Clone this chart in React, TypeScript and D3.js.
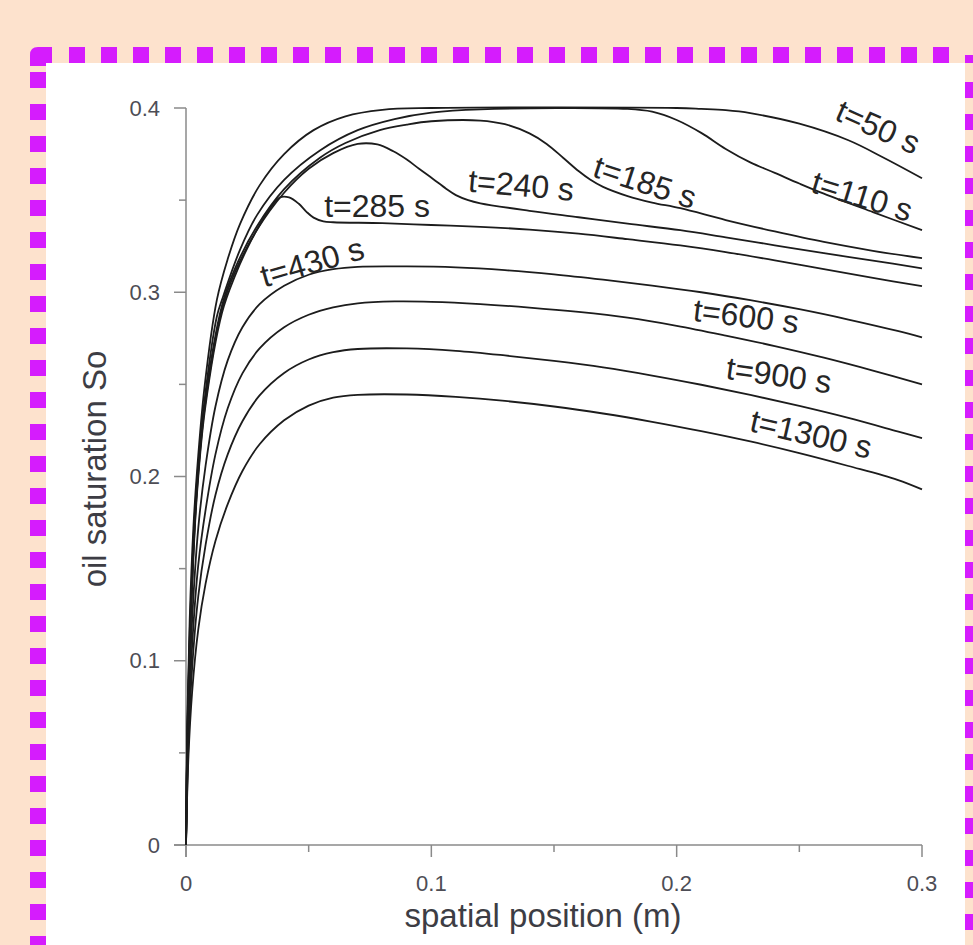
import React from "react";
import * as d3 from "d3";

// Oil saturation profiles So(x) at successive times (x in m)
const times = [50, 110, 185, 240, 285, 430, 600, 900, 1300];

const so50: [number, number][] = [
  [0, 0], [0.0005, 0.062], [0.0015, 0.122], [0.003, 0.172], [0.0045, 0.203], [0.0075, 0.248],
  [0.0126, 0.296], [0.017, 0.318], [0.022, 0.337], [0.03, 0.358], [0.04, 0.375], [0.052, 0.388],
  [0.065, 0.3955], [0.08, 0.399], [0.1, 0.4], [0.2, 0.4], [0.21, 0.3995], [0.22, 0.3988],
  [0.23, 0.3972], [0.25, 0.3915], [0.27, 0.3825], [0.284, 0.3733], [0.3, 0.3619],
];

const so110: [number, number][] = [
  [0, 0], [0.0005, 0.058], [0.0015, 0.115], [0.003, 0.165], [0.0045, 0.198], [0.0077, 0.243],
  [0.0126, 0.287], [0.0147, 0.296], [0.022, 0.323], [0.029, 0.342], [0.04, 0.361], [0.0546, 0.377],
  [0.07, 0.388], [0.085, 0.394], [0.1, 0.3975], [0.12, 0.3993], [0.18, 0.3995], [0.19, 0.398],
  [0.2, 0.3935], [0.21, 0.3865], [0.22, 0.3778], [0.23, 0.3705], [0.24, 0.3648], [0.25, 0.359],
  [0.26, 0.3535], [0.28, 0.3435], [0.3, 0.3337],
];

const so185: [number, number][] = [
  [0, 0], [0.0005, 0.055], [0.0015, 0.11], [0.003, 0.16], [0.0045, 0.195], [0.0077, 0.24],
  [0.0147, 0.293], [0.02, 0.313], [0.029, 0.336], [0.04, 0.356], [0.0546, 0.373], [0.065, 0.381],
  [0.079, 0.388], [0.09, 0.391], [0.1, 0.3928], [0.12, 0.3932], [0.13, 0.3912], [0.14, 0.3862],
  [0.147, 0.3805], [0.1537, 0.373], [0.16, 0.3658], [0.1647, 0.3612], [0.17, 0.3572], [0.18, 0.3522],
  [0.19, 0.3487], [0.2015, 0.3456], [0.22, 0.3392], [0.24, 0.333], [0.26, 0.3273], [0.28, 0.3225],
  [0.3, 0.3185],
];

const so240: [number, number][] = [
  [0, 0], [0.0005, 0.054], [0.0015, 0.108], [0.003, 0.158], [0.0045, 0.193], [0.0077, 0.238],
  [0.0147, 0.291], [0.02, 0.311], [0.029, 0.334], [0.04, 0.354], [0.05, 0.367], [0.06, 0.3755],
  [0.07, 0.3805], [0.078, 0.3802], [0.0845, 0.3765], [0.09, 0.372], [0.095, 0.367], [0.1007, 0.3615],
  [0.106, 0.3562], [0.11, 0.3527], [0.115, 0.35], [0.12, 0.3483], [0.14, 0.3442], [0.16, 0.3407],
  [0.18, 0.3372], [0.2015, 0.3337], [0.22, 0.3298], [0.24, 0.3255], [0.26, 0.3212], [0.28, 0.3172],
  [0.3, 0.313],
];

const so285: [number, number][] = [
  [0, 0], [0.0005, 0.053], [0.0015, 0.106], [0.003, 0.156], [0.0045, 0.191], [0.0077, 0.236],
  [0.0147, 0.289], [0.02, 0.309], [0.025, 0.324], [0.03, 0.3365], [0.034, 0.345], [0.0383, 0.3515],
  [0.042, 0.3515], [0.046, 0.348], [0.049, 0.3438], [0.052, 0.3405], [0.056, 0.3385], [0.06, 0.338],
  [0.08, 0.3375], [0.1, 0.3365], [0.12, 0.3355], [0.14, 0.334], [0.16, 0.3318], [0.18, 0.3288],
  [0.2015, 0.3254], [0.22, 0.3218], [0.24, 0.3173], [0.26, 0.3125], [0.28, 0.3078], [0.3, 0.3033],
];

const so430: [number, number][] = [
  [0, 0], [0.001, 0.07], [0.0025, 0.122], [0.005, 0.172], [0.008, 0.206], [0.012, 0.238],
  [0.017, 0.263], [0.023, 0.281], [0.03, 0.2935], [0.04, 0.3035], [0.05, 0.3095], [0.06, 0.3125],
  [0.07, 0.3138], [0.09, 0.314], [0.11, 0.3135], [0.13, 0.312], [0.15, 0.3097], [0.17, 0.3068],
  [0.19, 0.3036], [0.21, 0.3], [0.23, 0.2957], [0.25, 0.2908], [0.27, 0.2852], [0.29, 0.279],
  [0.3, 0.2755],
];

const so600: [number, number][] = [
  [0, 0], [0.001, 0.062], [0.0025, 0.108], [0.005, 0.152], [0.008, 0.182], [0.012, 0.212],
  [0.017, 0.237], [0.023, 0.256], [0.03, 0.2695], [0.04, 0.281], [0.05, 0.2878], [0.06, 0.2918],
  [0.07, 0.294], [0.085, 0.295], [0.1, 0.2948], [0.12, 0.2936], [0.14, 0.2917], [0.16, 0.2893],
  [0.18, 0.2862], [0.2, 0.2818], [0.22, 0.2765], [0.24, 0.2708], [0.26, 0.2645], [0.28, 0.2575],
  [0.3, 0.25],
];

const so900: [number, number][] = [
  [0, 0], [0.001, 0.055], [0.0025, 0.096], [0.005, 0.135], [0.008, 0.163], [0.012, 0.19],
  [0.017, 0.212], [0.023, 0.23], [0.03, 0.244], [0.04, 0.2562], [0.05, 0.2635], [0.06, 0.2675],
  [0.07, 0.2692], [0.09, 0.2695], [0.11, 0.2682], [0.13, 0.2657], [0.15, 0.2627], [0.17, 0.2592],
  [0.19, 0.2548], [0.21, 0.2498], [0.23, 0.2443], [0.25, 0.2383], [0.27, 0.2318], [0.29, 0.2245],
  [0.3, 0.2208],
];

const so1300: [number, number][] = [
  [0, 0], [0.001, 0.048], [0.0025, 0.083], [0.005, 0.117], [0.008, 0.142], [0.012, 0.165],
  [0.017, 0.185], [0.023, 0.203], [0.03, 0.2175], [0.04, 0.2305], [0.05, 0.2385], [0.06, 0.2428],
  [0.07, 0.2443], [0.09, 0.2445], [0.11, 0.2432], [0.13, 0.241], [0.15, 0.238], [0.17, 0.2342],
  [0.19, 0.2297], [0.21, 0.2246], [0.23, 0.219], [0.25, 0.2127], [0.27, 0.2057], [0.29, 0.1982],
  [0.3, 0.193],
];

const profiles = [so50, so110, so185, so240, so285, so430, so600, so900, so1300];

// Axis ticks
const xTicks = [0, 0.1, 0.2, 0.3];
const xMinorTicks = [0.05, 0.15, 0.25];
const yTicks = [0, 0.1, 0.2, 0.3, 0.4];
const yMinorTicks = [0.05, 0.15, 0.25, 0.35];

// Where each time label sits (data units) and its rotation in degrees
const labelSpots = [
  { x: 0.2821, y: 0.3896, angle: 24 },
  { x: 0.2756, y: 0.3521, angle: 17 },
  { x: 0.1871, y: 0.3597, angle: 18 },
  { x: 0.1366, y: 0.3581, angle: 5 },
  { x: 0.0779, y: 0.3467, angle: 0 },
  { x: 0.0514, y: 0.3163, angle: -16 },
  { x: 0.2283, y: 0.287, angle: 7 },
  { x: 0.2417, y: 0.255, angle: 8 },
  { x: 0.2548, y: 0.223, angle: 13 },
];

const W = 973;
const H = 945;
const FONT = "'Liberation Sans', Arial, Helvetica, sans-serif";
const MAGENTA = "#d51cfd";

export default function App() {
  const x = d3.scaleLinear().domain([0, 0.3]).range([186, 922]);
  const y = d3.scaleLinear().domain([0, 0.4]).range([845, 108]);
  const line = d3
    .line<[number, number]>()
    .x((d) => x(d[0]))
    .y((d) => y(d[1]))
    .curve(d3.curveCatmullRom.alpha(0.5));

  // dashed frame squares
  const topSquares = d3.range(69, 960, 32);
  const leftSquares = d3.range(72, H, 32);
  const rightSquares = d3.range(82, H, 32);

  const axisColor = "#8a8a8a";

  return (
    <svg
      width={W}
      height={H}
      style={{ position: "absolute", left: 0, top: 0, display: "block" }}
      fontFamily={FONT}
    >
      <rect x={0} y={0} width={W} height={H} fill="#fde2cd" />
      <rect x={46} y={63} width={919} height={H - 63} fill="#ffffff" />

      {/* frame */}
      <g fill={MAGENTA}>
        <path d="M30,55 Q30,47 38,47 L52,47 L52,63 L46,63 L46,66 L30,66 Z" />
        {topSquares.map((sx) => (
          <rect key={`t${sx}`} x={sx} y={47} width={16} height={16} />
        ))}
        <rect x={965} y={55} width={8} height={8} />
        {leftSquares.map((sy) => (
          <rect key={`l${sy}`} x={30} y={sy} width={16} height={16} />
        ))}
        {rightSquares.map((sy) => (
          <rect key={`r${sy}`} x={965} y={sy} width={16} height={16} />
        ))}
      </g>

      {/* axes */}
      <g stroke={axisColor} strokeWidth={1.5} fill="none">
        <line x1={x(0)} y1={y(0.4)} x2={x(0)} y2={y(0) + 12} />
        <line x1={x(0) - 12} y1={y(0)} x2={x(0.3)} y2={y(0)} />
        {yTicks.map((t) => (
          <line key={`yt${t}`} x1={x(0) - 12} x2={x(0)} y1={y(t)} y2={y(t)} />
        ))}
        {yMinorTicks.map((t) => (
          <line key={`ym${t}`} x1={x(0) - 7} x2={x(0)} y1={y(t)} y2={y(t)} />
        ))}
        {xTicks.map((t) => (
          <line key={`xt${t}`} x1={x(t)} x2={x(t)} y1={y(0)} y2={y(0) + 12} />
        ))}
        {xMinorTicks.map((t) => (
          <line key={`xm${t}`} x1={x(t)} x2={x(t)} y1={y(0)} y2={y(0) + 7} />
        ))}
      </g>

      <g fill="#4d4d55" fontSize={22}>
        {yTicks.map((t) => (
          <text key={`yl${t}`} x={x(0) - 26} y={y(t)} textAnchor="end" dominantBaseline="central">
            {t === 0 ? "0" : t.toFixed(1)}
          </text>
        ))}
        {xTicks.map((t) => (
          <text key={`xl${t}`} x={x(t)} y={891} textAnchor="middle">
            {t === 0 ? "0" : t.toFixed(1)}
          </text>
        ))}
      </g>

      <text x={543} y={927} textAnchor="middle" fontSize={33} fill="#3d3d44">
        spatial position (m)
      </text>
      <text
        transform="translate(106,469) rotate(-90)"
        textAnchor="middle"
        fontSize={33}
        fill="#3d3d44"
      >
        oil saturation So
      </text>

      {/* saturation profiles */}
      <g fill="none" stroke="#1c1c1c" strokeWidth={1.8}>
        {profiles.map((p, i) => (
          <path key={`p${times[i]}`} d={line(p) ?? ""} />
        ))}
      </g>

      <g fill="#262626" fontSize={32}>
        {times.map((t, i) => {
          const s = labelSpots[i];
          return (
            <text
              key={`lab${t}`}
              transform={`translate(${x(s.x)},${y(s.y)}) rotate(${s.angle})`}
              textAnchor="middle"
              dominantBaseline="central"
            >
              {`t=${t} s`}
            </text>
          );
        })}
      </g>
    </svg>
  );
}
